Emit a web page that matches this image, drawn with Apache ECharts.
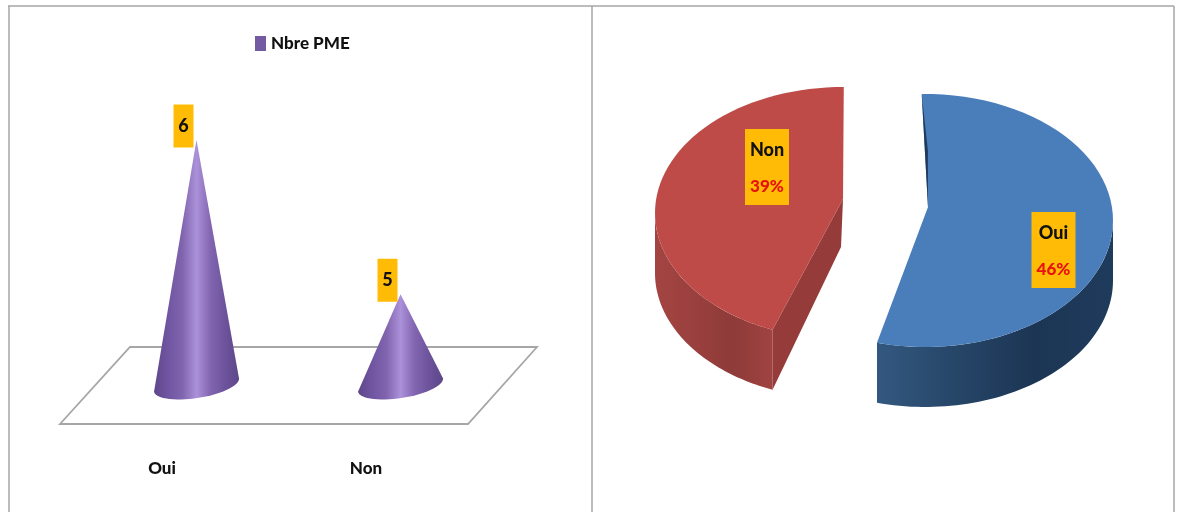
<!DOCTYPE html>
<html><head><meta charset="utf-8">
<style>html,body{margin:0;padding:0;background:#fff}#c{width:1181px;height:512px}</style>
<script src="https://cdn.jsdelivr.net/npm/echarts@6/dist/echarts.min.js"></script>
</head><body><div id="c"></div>
<script>
const categories = ['Oui', 'Non'];
const pmeCounts = [6, 5];
const seriesName = 'Nbre PME';
const pieNames = ['Oui', 'Non'];
const pieShares = [46, 39];
const pieLabels = ['46%', '39%'];

const FONT = 'Lato,"Open Sans",sans-serif';
const LABEL_BG = '#ffbb05';
const DEPTH = {x: 69, y: -77};
const CONE = {rx: 43, ry: 13, tilt: -9 * Math.PI / 180, rise: 39};
const SLICES = [
  {cx: 925, cy: 220.5, rx: 188, ry: 126.5, depth: 60, apex: [928, 207], start: -91, scale: 1.005,
   top: '#4a7ebb', sideFrom: 0, box: [1053.5, 250],
   side: ['#33587f', '#264668', '#1c3554', '#1f3b5c']},
  {cx: 843, cy: 213, rx: 188, ry: 126, depth: 60, apex: [843, 199], start: 112, scale: 0.958,
   top: '#be4b48', sideTo: 180, box: [767, 167], inner: '#953b39',
   side: ['#a34442', '#9a403e', '#8e3b39', '#a04341']}
];
const grad = (stops) => new echarts.graphic.LinearGradient(0, 0, 1, 0,
  stops.map((c, i) => ({offset: i / (stops.length - 1), color: c})));

function labelBox(cx, cy, w, h, lines) {
  const out = [{type: 'rect', shape: {x: cx - w / 2, y: cy - h / 2, width: w, height: h}, style: {fill: LABEL_BG}}];
  lines.forEach(l => out.push({type: 'text', style: {x: cx, y: l.y, text: l.text, fill: l.color,
    font: '900 ' + l.size + 'px ' + FONT, align: 'center', verticalAlign: 'middle'}}));
  return out;
}

function renderFloor(params) {
  const g = params.coordSys;
  const b = g.y + g.height;
  return {type: 'polygon', shape: {points: [[g.x, b], [g.x + g.width, b], [g.x + g.width + DEPTH.x, b + DEPTH.y], [g.x + DEPTH.x + 1, b + DEPTH.y]]},
    style: {fill: 'none', stroke: '#a6a6a6', lineWidth: 1.8}};
}

function renderCone(params, api) {
  const top = api.coord([api.value(0), api.value(1)]);
  const g = params.coordSys;
  const cx = top[0] + DEPTH.x / 2;
  const cy = g.y + g.height - CONE.rise;
  const apex = [cx, top[1]];
  const pts = [apex];
  for (let d = 0; d <= 180; d += 6) {
    const t = d * Math.PI / 180;
    const ex = CONE.rx * Math.cos(t), ey = CONE.ry * Math.sin(t);
    pts.push([cx + ex * Math.cos(CONE.tilt) - ey * Math.sin(CONE.tilt),
              cy + ex * Math.sin(CONE.tilt) + ey * Math.cos(CONE.tilt)]);
  }
  const bcx = apex[0] - 13, bcy = apex[1] - 14;
  return {type: 'group', children: [
    {type: 'polygon', shape: {points: pts}, style: {fill: grad(['#5f4789', '#7055a2', '#8064ae', '#ab90da', '#8265b0', '#6d539c', '#5d4788'])}},
    ...labelBox(bcx, bcy, 20, 43, [{text: String(api.value(1)), y: bcy, size: 18, color: '#111'}])
  ]};
}

function renderSlice(params, api) {
  const i = params.dataIndex, s = SLICES[i];
  const total = pieShares.reduce((a, b) => a + b, 0);
  const sweep = api.value(0) / total * 360 * s.scale;
  const a0 = s.start, a1 = s.start + sweep;
  const pt = (deg, dy) => {
    const t = deg * Math.PI / 180;
    return [s.cx + s.rx * Math.cos(t), s.cy + s.ry * Math.sin(t) + (dy || 0)];
  };
  const arc = (from, to, dy) => {
    const out = [], n = 60;
    for (let k = 0; k <= n; k++) out.push(pt(from + (to - from) * k / n, dy));
    return out;
  };
  const sideA = s.sideFrom !== undefined ? s.sideFrom : a0;
  const sideB = s.sideTo !== undefined ? s.sideTo : a1;
  const children = [];
  children.push({type: 'polygon', shape: {points: arc(sideA, sideB, 0).concat(arc(sideB, sideA, s.depth))},
    style: {fill: grad(s.side)}});
  if (s.inner) {
    const tip = pt(a0);
    children.push({type: 'polygon', shape: {points: [s.apex, tip, [tip[0], tip[1] + s.depth], [s.apex[0] - 2, s.apex[1] + 48]]},
      style: {fill: s.inner}});
  }
  children.push({type: 'polygon', shape: {points: [s.apex].concat(arc(a0, a1, 0))}, style: {fill: s.top}});
  if (i === 0) {
    const st = pt(a0);
    const mid = [(st[0] + s.apex[0]) / 2 + 3, (st[1] + s.apex[1]) / 2];
    children.push({type: 'polygon', shape: {points: [st, mid, s.apex]},
      style: {fill: '#1f3b5c'}});
  }
  const [bx, by] = s.box;
  children.push(...labelBox(bx, by, 44, 76, [
    {text: pieNames[i], y: by - 17, size: 18, color: '#111'},
    {text: pieLabels[i], y: by + 20, size: 17, color: '#e8120c'}
  ]));
  return {type: 'group', children};
}

const line = (x1, y1, x2, y2) => ({type: 'line', silent: true, shape: {x1, y1, x2, y2},
  style: {stroke: '#a6a6a6', lineWidth: 1.5}});

const chart = echarts.init(document.getElementById('c'), null, {renderer: 'canvas'});
chart.setOption({
  animation: false,
  backgroundColor: '#fff',
  graphic: [line(8, 6, 1174, 6), line(9, 6, 9, 512), line(592, 6, 592, 512), line(1174, 6, 1174, 512)],
  legend: {data: [seriesName], left: 250, top: 30, icon: 'rect', itemWidth: 11, itemHeight: 15, itemGap: 5,
    textStyle: {fontFamily: FONT, fontWeight: 900, fontSize: 17, color: '#111'}},
  grid: {left: 60, top: 140, width: 408, height: 284},
  xAxis: {type: 'category', data: categories, axisLine: {show: false}, axisTick: {show: false},
    axisLabel: {margin: 36, fontFamily: FONT, fontWeight: 900, fontSize: 17, color: '#111'}},
  yAxis: {type: 'value', min: 4.16, max: 6, show: false},
  series: [
    {type: 'custom', name: 'plancher', renderItem: renderFloor, data: [[0, 0]], clip: false, silent: true, z: 1},
    {type: 'custom', name: seriesName, renderItem: renderCone, itemStyle: {color: '#7459a3'},
     data: categories.map((c, i) => [i, pmeCounts[i]]), clip: false, z: 2},
    {type: 'custom', name: 'Part', coordinateSystem: 'none', renderItem: renderSlice,
     data: pieShares.map(v => [v]), z: 2}
  ]
});
</script></body></html>
